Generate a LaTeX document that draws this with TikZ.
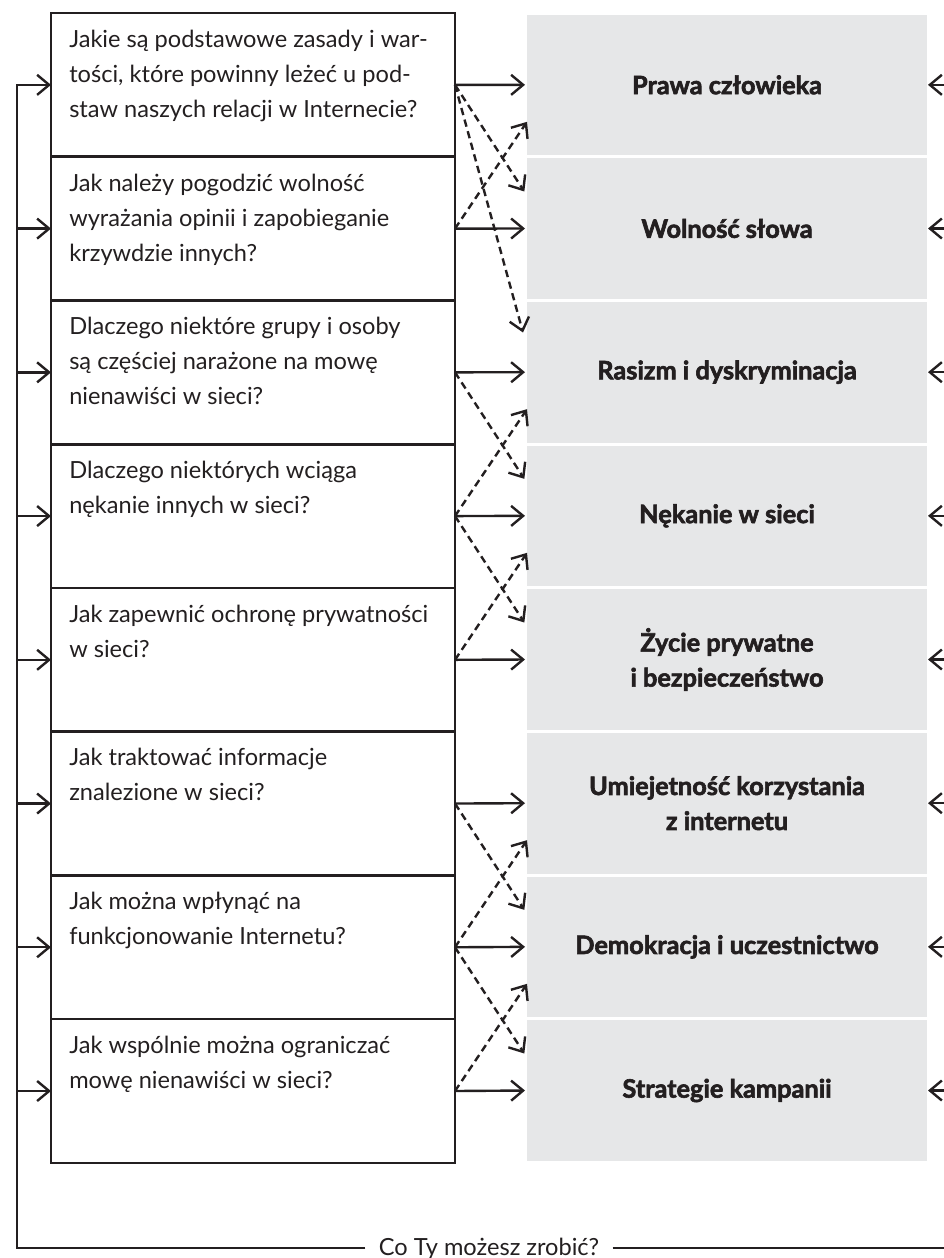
\documentclass[tikz,border=0pt]{standalone}
\usepackage{fontspec}
\setmainfont{Lato}
\newfontfamily\topicfont{Lato}[BoldFeatures={FakeBold=2.4}]
\usepackage{xcolor}
\usetikzlibrary{positioning,arrows.meta}
\definecolor{ink}{HTML}{231F20}
\definecolor{panel}{HTML}{E6E7E8}

\begin{document}
\begin{tikzpicture}[x=0.75pt, y=-0.75pt,
    qbox/.style={draw=ink, line width=2pt, minimum width=303pt, minimum height=107.8pt, inner sep=0pt, outer sep=0pt},
    qtext/.style={anchor=north west, inner sep=0pt, align=left, text=ink, font=\fontsize{17.7}{26.25}\selectfont},
    topic/.style={fill=panel, minimum width=300pt, minimum height=105.5pt, inner sep=0pt, outer sep=0pt, align=center, text=ink, font=\fontsize{19}{26.25}\selectfont\topicfont\bfseries},
    arr/.style={draw=ink, line width=1.8pt, -{Straight Barb[length=9pt,width=15pt]}},
    darr/.style={arr, dash pattern=on 5.5pt off 3.5pt}]
      \useasboundingbox (0,0) rectangle (944,1258);
      \node[topic, anchor=north west] (r1) at (527,14.5) {Prawa człowieka};
      \node[topic, below=2.25pt of r1] (r2) {Wolność słowa};
      \node[topic, below=2.25pt of r2] (r3) {Rasizm i dyskryminacja};
      \node[topic, below=2.25pt of r3] (r4) {Nękanie w sieci};
      \node[topic, below=2.25pt of r4] (r5) {Życie prywatne\\i bezpieczeństwo};
      \node[topic, below=2.25pt of r5] (r6) {Umiejetność korzystania\\z internetu};
      \node[topic, below=2.25pt of r6] (r7) {Demokracja i uczestnictwo};
      \node[topic, below=2.25pt of r7] (r8) {Strategie kampanii};

      \node[qbox, anchor=north west] (q1) at (51,13) {};
      \node[qbox, below=0pt of q1] (q2) {};
      \node[qbox, below=0pt of q2] (q3) {};
      \node[qbox, below=0pt of q3] (q4) {};
      \node[qbox, below=0pt of q4] (q5) {};
      \node[qbox, below=0pt of q5] (q6) {};
      \node[qbox, below=0pt of q6] (q7) {};
      \node[qbox, below=0pt of q7] (q8) {};
      \node[qtext] (q1t) at ([xshift=13.5pt,yshift=-12.5pt]q1.north west) {Jakie są podstawowe zasady i war-\\tości, które powinny leżeć u pod-\\staw naszych relacji w Internecie?};
      \node[qtext] (q2t) at ([xshift=13.5pt,yshift=-12.5pt]q2.north west) {Jak należy pogodzić wolność\\wyrażania opinii i zapobieganie\\krzywdzie innych?};
      \node[qtext] (q3t) at ([xshift=13.5pt,yshift=-12.5pt]q3.north west) {Dlaczego niektóre grupy i osoby\\są częściej narażone na mowę\\nienawiści w sieci?};
      \node[qtext] (q4t) at ([xshift=13.5pt,yshift=-12.5pt]q4.north west) {Dlaczego niektórych wciąga\\nękanie innych w sieci?};
      \node[qtext] (q5t) at ([xshift=13.5pt,yshift=-12.5pt]q5.north west) {Jak zapewnić ochronę prywatności\\w sieci?};
      \node[qtext] (q6t) at ([xshift=13.5pt,yshift=-12.5pt]q6.north west) {Jak traktować informacje\\znalezione w sieci?};
      \node[qtext] (q7t) at ([xshift=13.5pt,yshift=-12.5pt]q7.north west) {Jak można wpłynąć na\\funkcjonowanie Internetu?};
      \node[qtext] (q8t) at ([xshift=13.5pt,yshift=-12.5pt]q8.north west) {Jak wspólnie można ograniczać\\mowę nienawiści w sieci?};

      \coordinate (loopL) at (17,1248);
      \coordinate (edgeR) at (944,1248);
      \node[qtext, anchor=base, inner xsep=10pt] (what) at (489,1255) {Co Ty możesz zrobić?};

      \draw[arr] (what.west |- loopL) -- (loopL) -- (loopL |- q1.west) -- (q1.west);
      \draw[arr] (loopL |- q2.west) -- (q2.west);
      \draw[arr] (loopL |- q3.west) -- (q3.west);
      \draw[arr] (loopL |- q4.west) -- (q4.west);
      \draw[arr] (loopL |- q5.west) -- (q5.west);
      \draw[arr] (loopL |- q6.west) -- (q6.west);
      \draw[arr] (loopL |- q7.west) -- (q7.west);
      \draw[arr] (loopL |- q8.west) -- (q8.west);
      \draw[draw=ink, line width=1.8pt] (what.east |- edgeR) -- (edgeR);

      \draw[arr] (edgeR |- r1.east) -- ([xshift=0.75pt]r1.east);
      \draw[arr] (edgeR |- r2.east) -- ([xshift=0.75pt]r2.east);
      \draw[arr] (edgeR |- r3.east) -- ([xshift=0.75pt]r3.east);
      \draw[arr] (edgeR |- r4.east) -- ([xshift=0.75pt]r4.east);
      \draw[arr] (edgeR |- r5.east) -- ([xshift=0.75pt]r5.east);
      \draw[arr] (edgeR |- r6.east) -- ([xshift=0.75pt]r6.east);
      \draw[arr] (edgeR |- r7.east) -- ([xshift=0.75pt]r7.east);
      \draw[arr] (edgeR |- r8.east) -- ([xshift=0.75pt]r8.east);

      \draw[arr, shorten >=1.5pt] (q1.east) -- (r1.west);
      \draw[arr, shorten >=1.5pt] (q2.east) -- (r2.west);
      \draw[arr, shorten >=1.5pt] (q3.east) -- (r3.west);
      \draw[arr, shorten >=1.5pt] (q4.east) -- (r4.west);
      \draw[arr, shorten >=1.5pt] (q5.east) -- (r5.west);
      \draw[arr, shorten >=1.5pt] (q6.east) -- (r6.west);
      \draw[arr, shorten >=1.5pt] (q7.east) -- (r7.west);
      \draw[arr, shorten >=1.5pt] (q8.east) -- (r8.west);

      \draw[darr] (q1.east) -- ([xshift=-2pt,yshift=-25pt]r2.north west);
      \draw[darr] (q1.east) -- ([xshift=-3pt,yshift=-23pt]r3.north west);
      \draw[darr] (q2.east) -- ([yshift=25pt]r1.south west);
      \draw[darr] (q3.east) -- ([xshift=-2pt,yshift=-25pt]r4.north west);
      \draw[darr] (q4.east) -- ([yshift=25pt]r3.south west);
      \draw[darr] (q4.east) -- ([xshift=-2pt,yshift=-25pt]r5.north west);
      \draw[darr] (q5.east) -- ([yshift=25pt]r4.south west);
      \draw[darr] (q6.east) -- ([xshift=-2pt,yshift=-25pt]r7.north west);
      \draw[darr] (q7.east) -- ([yshift=25pt]r6.south west);
      \draw[darr] (q7.east) -- ([xshift=-2pt,yshift=-25pt]r8.north west);
      \draw[darr] (q8.east) -- ([yshift=25pt]r7.south west);
    \end{tikzpicture}
\end{document}
